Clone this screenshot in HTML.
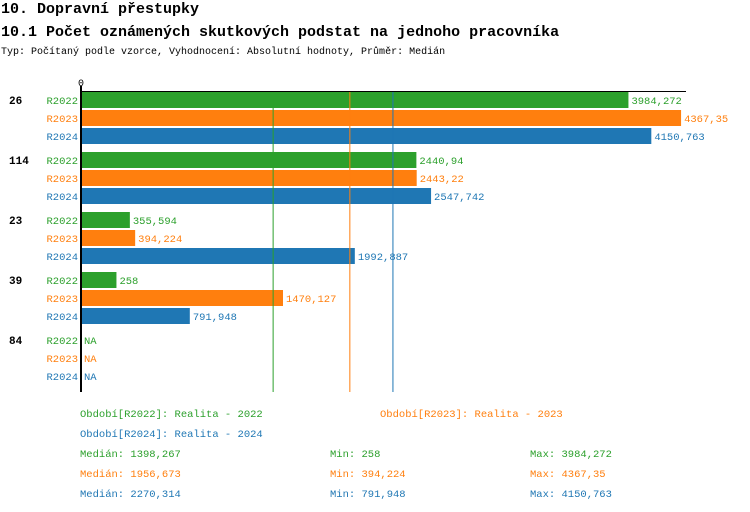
<!DOCTYPE html>
<html><head><meta charset="utf-8"><style>
body{margin:0;background:#fff;width:750px;height:512px;overflow:hidden}
svg{display:block;font-family:"Liberation Mono","DejaVu Sans Mono",monospace}
</style></head><body>
<svg id="c" width="750" height="512">
<text x="1" y="13" font-size="15" font-weight="bold">10. Dopravní přestupky</text>
<text x="1" y="36" font-size="15" font-weight="bold">10.1 Počet oznámených skutkových podstat na jednoho pracovníka</text>
<text x="1" y="54" font-size="10">Typ: Počítaný podle vzorce, Vyhodnocení: Absolutní hodnoty, Průměr: Medián</text>
<text x="78" y="86" font-size="10">0</text>
<g id="plot"></g>
</svg>
<script>
const groups=['26','114','23','39','84'];
const series=['R2022','R2023','R2024'];
const v2022=[3984.272,2440.94,355.594,258,null];
const v2023=[4367.35,2443.22,394.224,1470.127,null];
const v2024=[4150.763,2547.742,1992.887,791.948,null];
const medians=[1398.267,1956.673,2270.314];
const mins=[258,394.224,791.948];
const maxs=[3984.272,4367.35,4150.763];
const colors=['#2ca02c','#ff7f0e','#1f77b4'];
const vals=[v2022,v2023,v2024];
const ns='http://www.w3.org/2000/svg';
const g=document.getElementById('plot');
const x0=81,k=0.1374;
const X=v=>x0+v*k;
const gy=i=>92+i*60;
const fmt=v=>String(v).replace('.',',');
function el(t,a,txt){const e=document.createElementNS(ns,t);for(const n in a)e.setAttribute(n,a[n]);if(txt!=null)e.textContent=txt;g.appendChild(e);return e;}
groups.forEach((name,i)=>{
  const t=el('text',{x:9,y:gy(i)+12,'font-size':11,'font-weight':'bold'},name);
  
  
  series.forEach((s,j)=>{
    const y=gy(i)+j*18;
    const lt=el('text',{x:78,y:y+12,'font-size':10.5,fill:colors[j],'text-anchor':'end'},s);
    
    
    const v=vals[j][i];
    if(v==null){
      const na=el('text',{x:84,y:y+12,'font-size':10.5,fill:colors[j]},'NA');
      
      
    }else{
      const r=el('rect',{x:x0,y:y,width:X(v)-x0,height:16,fill:colors[j]});
      
      
      const vt=el('text',{x:X(v)+3,y:y+12,'font-size':10.5,fill:colors[j]},fmt(v));
      
      
    }
  });
});
medians.forEach((m,j)=>{
  const l=el('line',{x1:X(m),x2:X(m),y1:91,y2:392,stroke:colors[j],'stroke-width':1});
  
  
});
const ax=el('line',{x1:80,x2:686,y1:91.5,y2:91.5,stroke:'#000','stroke-width':1});


const ay=el('line',{x1:81,x2:81,y1:86,y2:392,stroke:'#000','stroke-width':2});


const lp=[[80,417],[380,417],[80,437]];
series.forEach((s,j)=>{
  const t=el('text',{x:lp[j][0],y:lp[j][1],'font-size':10.5,fill:colors[j]},'Období['+s+']: Realita - '+s.slice(1));
  
  
  const y=457+j*20;
  const a=el('text',{x:80,y:y,'font-size':10.5,fill:colors[j]},'Medián: '+fmt(medians[j]));
  
  
  const b=el('text',{x:330,y:y,'font-size':10.5,fill:colors[j]},'Min: '+fmt(mins[j]));
  
  
  const c=el('text',{x:530,y:y,'font-size':10.5,fill:colors[j]},'Max: '+fmt(maxs[j]));
  
  
});
</script>
</body></html>
